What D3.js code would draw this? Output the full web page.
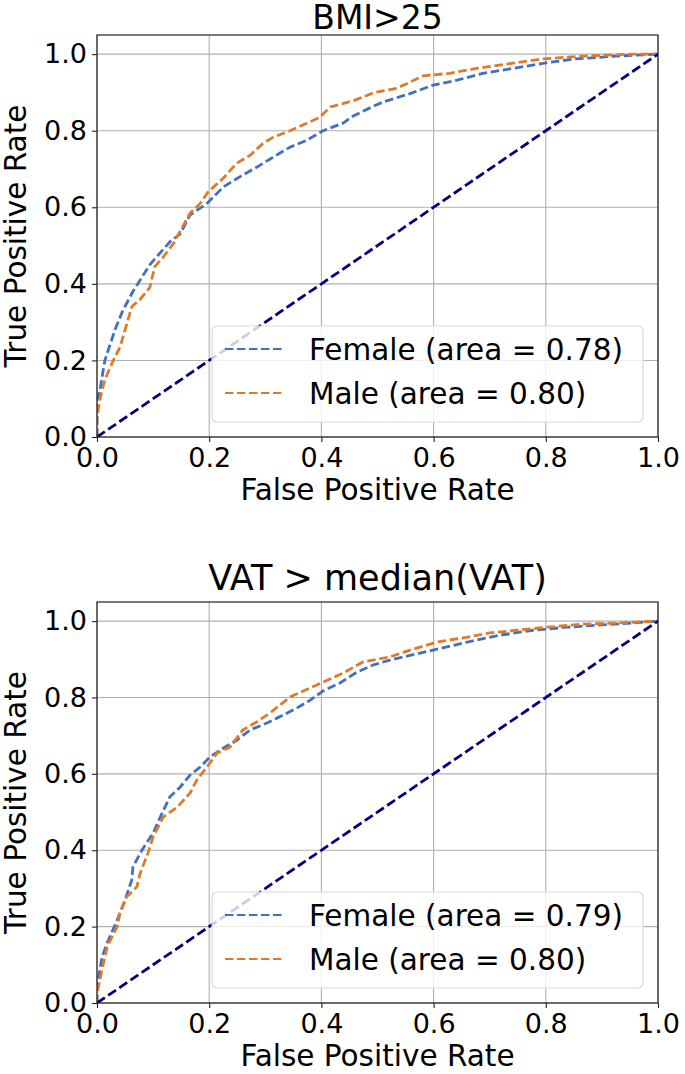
<!DOCTYPE html>
<html><head><meta charset="utf-8">
<script src="https://cdn.jsdelivr.net/npm/d3@7"></script>
<style>body{margin:0;background:#fff}svg{display:block}text{font-family:"DejaVu Sans",sans-serif;fill:#000}</style>
</head><body><svg id="c" width="685" height="1074"></svg>
<script>
const xTicks = [0, 0.2, 0.4, 0.6, 0.8, 1.0];
const yTicks = [0, 0.2, 0.4, 0.6, 0.8, 1.0];
const titles = ["BMI>25", "VAT > median(VAT)"];
const seriesNames = ["Female", "Male"];
const aucTop = [0.78, 0.80];
const aucBottom = [0.79, 0.80];
const chance = [[0,0],[1,1]];

const bmiFemale = [[0,0],[0,0.097],[0.005,0.12],[0.014,0.20],[0.032,0.28],[0.046,0.33],[0.064,0.38],[0.077,0.41],[0.094,0.45],[0.112,0.48],[0.13,0.51],[0.148,0.53],[0.166,0.58],[0.196,0.61],[0.225,0.653],[0.255,0.68],[0.285,0.705],[0.314,0.731],[0.344,0.757],[0.374,0.775],[0.403,0.80],[0.439,0.82],[0.456,0.838],[0.49,0.862],[0.51,0.875],[0.558,0.897],[0.599,0.919],[0.642,0.932],[0.688,0.95],[0.742,0.963],[0.795,0.976],[0.848,0.987],[0.927,0.995],[1,1]];
const bmiMale = [[0,0],[0,0.05],[0.005,0.097],[0.014,0.15],[0.029,0.20],[0.041,0.235],[0.05,0.28],[0.062,0.34],[0.077,0.36],[0.094,0.39],[0.103,0.445],[0.118,0.47],[0.136,0.505],[0.153,0.55],[0.166,0.585],[0.184,0.61],[0.198,0.64],[0.225,0.676],[0.249,0.715],[0.273,0.736],[0.296,0.767],[0.314,0.783],[0.344,0.80],[0.367,0.815],[0.397,0.835],[0.416,0.862],[0.46,0.88],[0.495,0.90],[0.535,0.911],[0.581,0.943],[0.629,0.95],[0.677,0.963],[0.73,0.974],[0.79,0.987],[0.866,0.995],[0.955,1.0],[1,1]];
const vatFemale = [[0,0],[0,0.042],[0.009,0.12],[0.018,0.157],[0.036,0.217],[0.05,0.27],[0.062,0.322],[0.064,0.356],[0.08,0.40],[0.1,0.445],[0.116,0.497],[0.13,0.54],[0.148,0.565],[0.166,0.597],[0.184,0.618],[0.201,0.644],[0.225,0.667],[0.249,0.688],[0.273,0.715],[0.303,0.733],[0.332,0.754],[0.356,0.772],[0.38,0.793],[0.403,0.817],[0.433,0.838],[0.463,0.866],[0.492,0.885],[0.522,0.898],[0.599,0.924],[0.66,0.945],[0.718,0.963],[0.777,0.976],[0.838,0.984],[0.897,0.99],[0.955,0.995],[1,1]];
const vatMale = [[0,0],[0,0.026],[0.005,0.06],[0.018,0.147],[0.036,0.20],[0.041,0.235],[0.053,0.278],[0.071,0.304],[0.077,0.34],[0.091,0.393],[0.1,0.435],[0.118,0.487],[0.143,0.513],[0.166,0.55],[0.178,0.584],[0.196,0.618],[0.214,0.654],[0.237,0.67],[0.26,0.715],[0.285,0.736],[0.308,0.759],[0.344,0.801],[0.38,0.825],[0.403,0.84],[0.439,0.864],[0.474,0.893],[0.522,0.906],[0.558,0.924],[0.606,0.945],[0.66,0.958],[0.70,0.969],[0.749,0.976],[0.802,0.984],[0.866,0.992],[0.927,0.995],[1,1]];

const colors = ["#4070c0", "#e07a28"];
const svg = d3.select("#c");
const L = 97, R = 658;

const panels = [
  {top: 35, bottom: 437, title: titles[0], series: [bmiFemale, bmiMale], auc: aucTop, titleY: 29, titleSize: 33},
  {top: 602, bottom: 1003, title: titles[1], series: [vatFemale, vatMale], auc: aucBottom, titleY: 590, titleSize: 35}
];

panels.forEach(p => {
  const x = d3.scaleLinear().domain([0, 1]).range([L, R]);
  const y = d3.scaleLinear().domain([0, 1.05]).range([p.bottom, p.top]);
  const g = svg.append("g");
  const clipId = "clip" + p.top;
  g.append("clipPath").attr("id", clipId).append("rect")
    .attr("x", L).attr("y", p.top).attr("width", R - L).attr("height", p.bottom - p.top);

  // grid
  g.append("g").selectAll("line").data(xTicks).join("line")
    .attr("x1", d => x(d)).attr("x2", d => x(d)).attr("y1", p.top).attr("y2", p.bottom)
    .attr("stroke", "#b0b0b0").attr("stroke-width", 1.1);
  g.append("g").selectAll("line").data(yTicks).join("line")
    .attr("y1", d => y(d)).attr("y2", d => y(d)).attr("x1", L).attr("x2", R)
    .attr("stroke", "#b0b0b0").attr("stroke-width", 1.1);

  const line = d3.line().x(d => x(d[0])).y(d => y(d[1]));
  const lg = g.append("g").attr("clip-path", `url(#${clipId})`);
  p.series.forEach((s, i) => {
    lg.append("path").attr("d", line(s)).attr("fill", "none")
      .attr("stroke", colors[i]).attr("stroke-width", 2.8)
      .attr("stroke-dasharray", "8.5,3.7");
  });
  lg.append("path").attr("d", line(chance)).attr("fill", "none")
    .attr("stroke", "#000080").attr("stroke-width", 2.8)
    .attr("stroke-dasharray", "9.5,4");

  // axes
  const xAxis = d3.axisBottom(x).tickValues(xTicks).tickFormat(d3.format(".1f")).tickSize(5).tickPadding(6);
  const yAxis = d3.axisLeft(y).tickValues(yTicks).tickFormat(d3.format(".1f")).tickSize(5).tickPadding(5);
  const ax = g.append("g").attr("transform", `translate(0,${p.bottom})`).call(xAxis);
  const ay = g.append("g").attr("transform", `translate(${L},0)`).call(yAxis);
  [ax, ay].forEach(a => {
    a.select(".domain").remove();
    a.selectAll(".tick line").attr("stroke", "#222").attr("stroke-width", 1.1);
    a.selectAll(".tick text").attr("font-size", 27).attr("font-family", "DejaVu Sans").attr("fill", "#000");
  });

  // frame
  g.append("rect").attr("x", L).attr("y", p.top).attr("width", R - L).attr("height", p.bottom - p.top)
    .attr("fill", "none").attr("stroke", "#222").attr("stroke-width", 1.2);

  // title & labels
  g.append("text").attr("x", (L + R) / 2).attr("y", p.titleY).attr("text-anchor", "middle")
    .attr("font-size", p.titleSize).text(p.title);
  g.append("text").attr("x", (L + R) / 2).attr("y", p.bottom + 63).attr("text-anchor", "middle")
    .attr("font-size", 29.5).text("False Positive Rate");
  g.append("text").attr("transform", `translate(26,${(p.top + p.bottom) / 2}) rotate(-90)`)
    .attr("text-anchor", "middle").attr("font-size", 29.5).text("True Positive Rate");

  // legend
  const lgX = 212, lgW = 431, lgH = 96, lgY = p.bottom - 15 - lgH;
  const leg = g.append("g");
  leg.append("rect").attr("x", lgX).attr("y", lgY).attr("width", lgW).attr("height", lgH)
    .attr("rx", 5).attr("fill", "#fff").attr("fill-opacity", 0.8)
    .attr("stroke", "#d9d9d9").attr("stroke-width", 1.2);
  seriesNames.forEach((n, i) => {
    const ry = lgY + 23 + i * 44;
    leg.append("line").attr("x1", lgX + 13).attr("x2", lgX + 73).attr("y1", ry).attr("y2", ry)
      .attr("stroke", colors[i]).attr("stroke-width", 2.2).attr("stroke-dasharray", "8.5,3.5");
    leg.append("text").attr("x", lgX + 97).attr("y", ry).attr("dy", "0.36em")
      .attr("font-size", 29.5).text(`${n} (area = ${p.auc[i].toFixed(2)})`);
  });
});
</script></body></html>
